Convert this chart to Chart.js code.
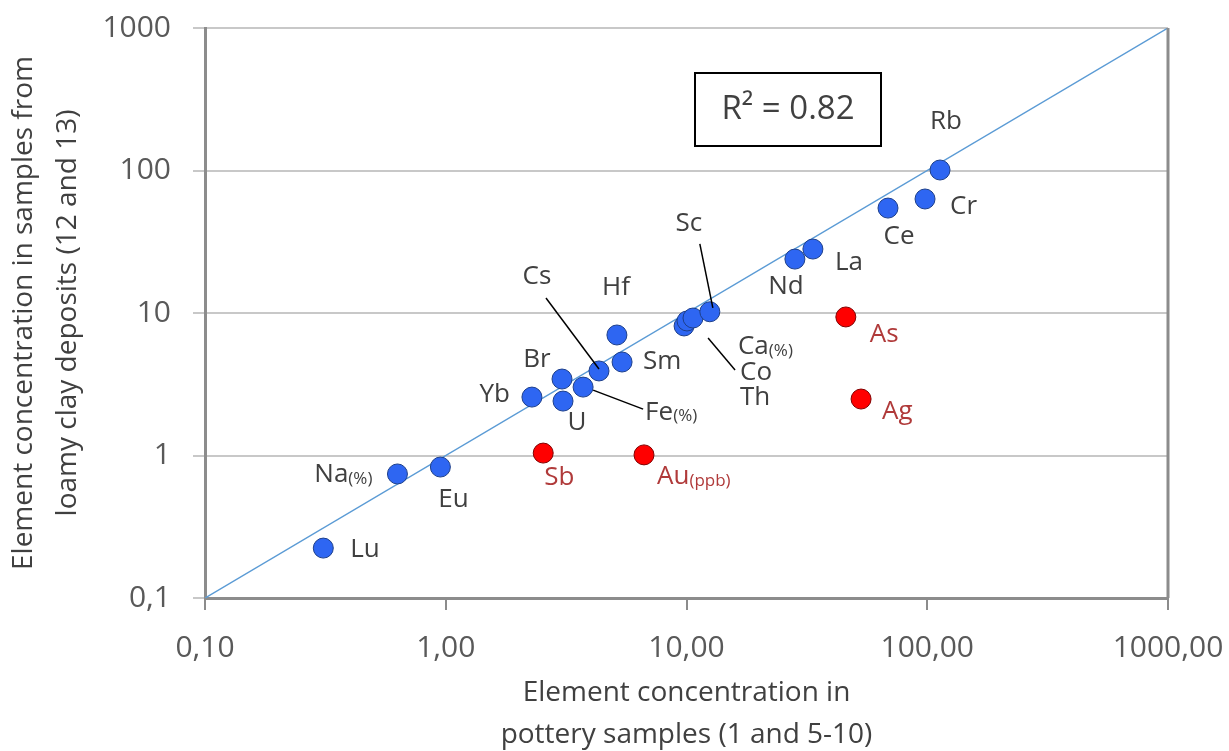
<!DOCTYPE html>
<html>
<head>
<meta charset="utf-8">
<script src="https://cdn.jsdelivr.net/npm/chart.js@4.4.1/dist/chart.umd.min.js"></script>
<style>
  html, body { margin: 0; padding: 0; background: #fff; }
  #wrap { position: relative; width: 1229px; height: 751px; }
</style>
</head>
<body>
<div id="wrap"><canvas id="chart" width="1229" height="751"></canvas></div>
<script>
// elements that follow the 1:1 line
const elements = ["Lu", "Na", "Eu", "Yb", "U", "Br", "Fe", "Cs", "Sm", "Hf", "Co", "Th", "Ca", "Sc", "Nd", "La", "Ce", "Cr", "Rb"];
const potteryValues = [0.31, 0.63, 0.95, 2.28, 3.07, 3.04, 3.72, 4.33, 5.4, 5.14, 9.77, 10.05, 10.64, 12.5, 28.2, 33.5, 68.7, 97.9, 113];
const clayValues = [0.224, 0.742, 0.83, 2.57, 2.41, 3.44, 3.02, 3.92, 4.53, 7.01, 8.11, 8.79, 9.22, 10.2, 23.9, 28.1, 54.5, 63.1, 100.8];

// elements off the line (red)
const outlierElements = ["Sb", "Au", "As", "Ag"];
const outlierPottery = [2.54, 6.66, 45.9, 53.1];
const outlierClay = [1.04, 1.01, 9.38, 2.49];

// 1:1 reference line
const lineX = [0.1, 1000];
const lineY = [0.1, 1000];

const xTicks = [0.1, 1, 10, 100, 1000];
const xTickLabels = ["0,10", "1,00", "10,00", "100,00", "1000,00"];
const yTicks = [0.1, 1, 10, 100, 1000];
const yTickLabels = ["0,1", "1", "10", "100", "1000"];

const rSquared = "R\u00B2 = 0.82";

// label placement (pixel offsets from the point), suffix drawn smaller
const labelStyle = {
  Lu: { dx: 27, dy: 2, align: "left" },
  Na: { dx: -25, dy: 1, align: "right", suffix: "(%)" },
  Eu: { dx: 13, dy: 33, align: "center" },
  Yb: { dx: -22, dy: -2, align: "right" },
  U:  { dx: 14, dy: 22, align: "center" },
  Br: { dx: -25, dy: -19, align: "center" },
  Fe: { dx: 62, dy: 25, align: "left", suffix: "(%)", lead: [10, 3, 60, 22] },
  Cs: { dx: -62, dy: -94, align: "center", lead: [-53, -73, 0, -2] },
  Sm: { dx: 21, dy: 0, align: "left" },
  Hf: { dx: -1, dy: -47, align: "center" },
  Co: { dx: 56, dy: 47, align: "left", lead: [24, 12, 51, 44] },
  Th: { dx: 53, dy: 77, align: "left" },
  Ca: { dx: 45, dy: 29, align: "left", suffix: "(%)" },
  Sc: { dx: -21, dy: -88, align: "center", lead: [-10, -68, 3, -4] },
  Nd: { dx: -9, dy: 28, align: "center" },
  La: { dx: 22, dy: 14, align: "left" },
  Ce: { dx: 11, dy: 29, align: "center" },
  Cr: { dx: 25, dy: 8, align: "left" },
  Rb: { dx: 6, dy: -48, align: "center" },
  Sb: { dx: 16, dy: 25, align: "center" },
  Au: { dx: 13, dy: 22, align: "left", suffix: "(ppb)" },
  As: { dx: 24, dy: 18, align: "left" },
  Ag: { dx: 21, dy: 13, align: "left" }
};

const FONT = "'Open Sans', 'Liberation Sans', sans-serif";
const textGray = "#404040";
const redText = "#b03a3a";

const toPoints = (xs, ys) => xs.map((x, i) => ({ x: x, y: ys[i] }));

const annotate = {
  id: "annotate",
  afterDatasetsDraw(chart) {
    const ctx = chart.ctx;
    const area = chart.chartArea;
    const xs = chart.scales.x, ys = chart.scales.y;
    ctx.save();

    // right border of plot
    ctx.strokeStyle = "#8c8c8c";
    ctx.lineWidth = 3;
    ctx.beginPath();
    ctx.moveTo(area.right, area.top);
    ctx.lineTo(area.right, area.bottom);
    ctx.stroke();

    const drawSet = (names, px, py, color) => {
      names.forEach((name, i) => {
        const st = labelStyle[name];
        if (!st) return;
        const x = xs.getPixelForValue(px[i]);
        const y = ys.getPixelForValue(py[i]);
        if (st.lead) {
          ctx.strokeStyle = "#000";
          ctx.lineWidth = 1.5;
          ctx.beginPath();
          ctx.moveTo(x + st.lead[0], y + st.lead[1]);
          ctx.lineTo(x + st.lead[2], y + st.lead[3]);
          ctx.stroke();
        }
        ctx.fillStyle = color;
        ctx.textBaseline = "middle";
        ctx.font = "26px " + FONT;
        const mainW = ctx.measureText(name).width;
        ctx.font = "17px " + FONT;
        const sufW = st.suffix ? ctx.measureText(st.suffix).width : 0;
        const total = mainW + sufW;
        let left = x + st.dx;
        if (st.align === "center") left -= total / 2;
        if (st.align === "right") left -= total;
        ctx.textAlign = "left";
        ctx.font = "26px " + FONT;
        ctx.fillText(name, left, y + st.dy);
        if (st.suffix) {
          ctx.font = "17px " + FONT;
          ctx.fillText(st.suffix, left + mainW, y + st.dy + 4);
        }
      });
    };
    drawSet(elements, potteryValues, clayValues, textGray);
    drawSet(outlierElements, outlierPottery, outlierClay, redText);

    // R² box
    ctx.fillStyle = "#fff";
    ctx.fillRect(695, 73, 186, 73);
    ctx.strokeStyle = "#000";
    ctx.lineWidth = 2;
    ctx.strokeRect(695, 73, 186, 73);
    ctx.fillStyle = textGray;
    ctx.font = "33px " + FONT;
    ctx.textAlign = "center";
    ctx.textBaseline = "middle";
    ctx.fillText(rSquared, 788, 110);
    ctx.restore();
  }
};

new Chart(document.getElementById("chart"), {
  type: "scatter",
  data: {
    datasets: [
      {
        label: "1:1",
        type: "line",
        data: toPoints(lineX, lineY),
        borderColor: "#5b9bd5",
        borderWidth: 1.5,
        pointRadius: 0,
        fill: false,
        order: 3
      },
      {
        label: "elements",
        data: toPoints(potteryValues, clayValues),
        backgroundColor: "#2e66f2",
        borderColor: "#1d3f8a",
        borderWidth: 1,
        pointRadius: 10,
        order: 2
      },
      {
        label: "outliers",
        data: toPoints(outlierPottery, outlierClay),
        backgroundColor: "#ff0000",
        borderColor: "#800000",
        borderWidth: 1,
        pointRadius: 10,
        order: 1
      }
    ]
  },
  options: {
    responsive: false,
    animation: false,
    layout: { padding: { top: 28, right: 61, left: 0, bottom: 0 } },
    plugins: {
      legend: { display: false },
      tooltip: { enabled: false }
    },
    scales: {
      x: {
        type: "logarithmic",
        min: 0.1,
        max: 1000,
        afterBuildTicks: (s) => { s.ticks = xTicks.map((v) => ({ value: v })); },
        afterFit: (s) => { s.height = 153; s.paddingLeft = 0; s.paddingRight = 0; },
        ticks: {
          callback: (v) => xTickLabels[xTicks.indexOf(v)],
          color: "#595959",
          font: { family: FONT, size: 30 },
          padding: 20,
          maxRotation: 0,
          autoSkip: false
        },
        grid: { drawOnChartArea: false, drawTicks: true, tickLength: 12, color: "#8c8c8c", lineWidth: 2 },
        border: { color: "#8c8c8c", width: 3 },
        title: {
          display: true,
          text: ["Element concentration in", "pottery samples (1 and 5-10)"],
          color: textGray,
          font: { family: FONT, size: 28, lineHeight: 1.5 },
          padding: { top: 0, bottom: -5 }
        }
      },
      y: {
        type: "logarithmic",
        min: 0.1,
        max: 1000,
        afterBuildTicks: (s) => { s.ticks = yTicks.map((v) => ({ value: v })); },
        afterFit: (s) => { s.width = 205; s.paddingTop = 0; s.paddingBottom = 0; },
        ticks: {
          callback: (v) => yTickLabels[yTicks.indexOf(v)],
          color: "#595959",
          font: { family: FONT, size: 30 },
          padding: 22,
          autoSkip: false
        },
        grid: { color: "#c8c8c8", lineWidth: 2, tickLength: 12 },
        border: { color: "#8c8c8c", width: 3 },
        title: {
          display: true,
          text: ["Element concentration in samples from", "loamy clay deposits (12 and 13)"],
          color: textGray,
          font: { family: FONT, size: 28, lineHeight: 1.57 },
          padding: { top: 2, bottom: 0 }
        }
      }
    }
  },
  plugins: [annotate]
});
</script>
</body>
</html>
